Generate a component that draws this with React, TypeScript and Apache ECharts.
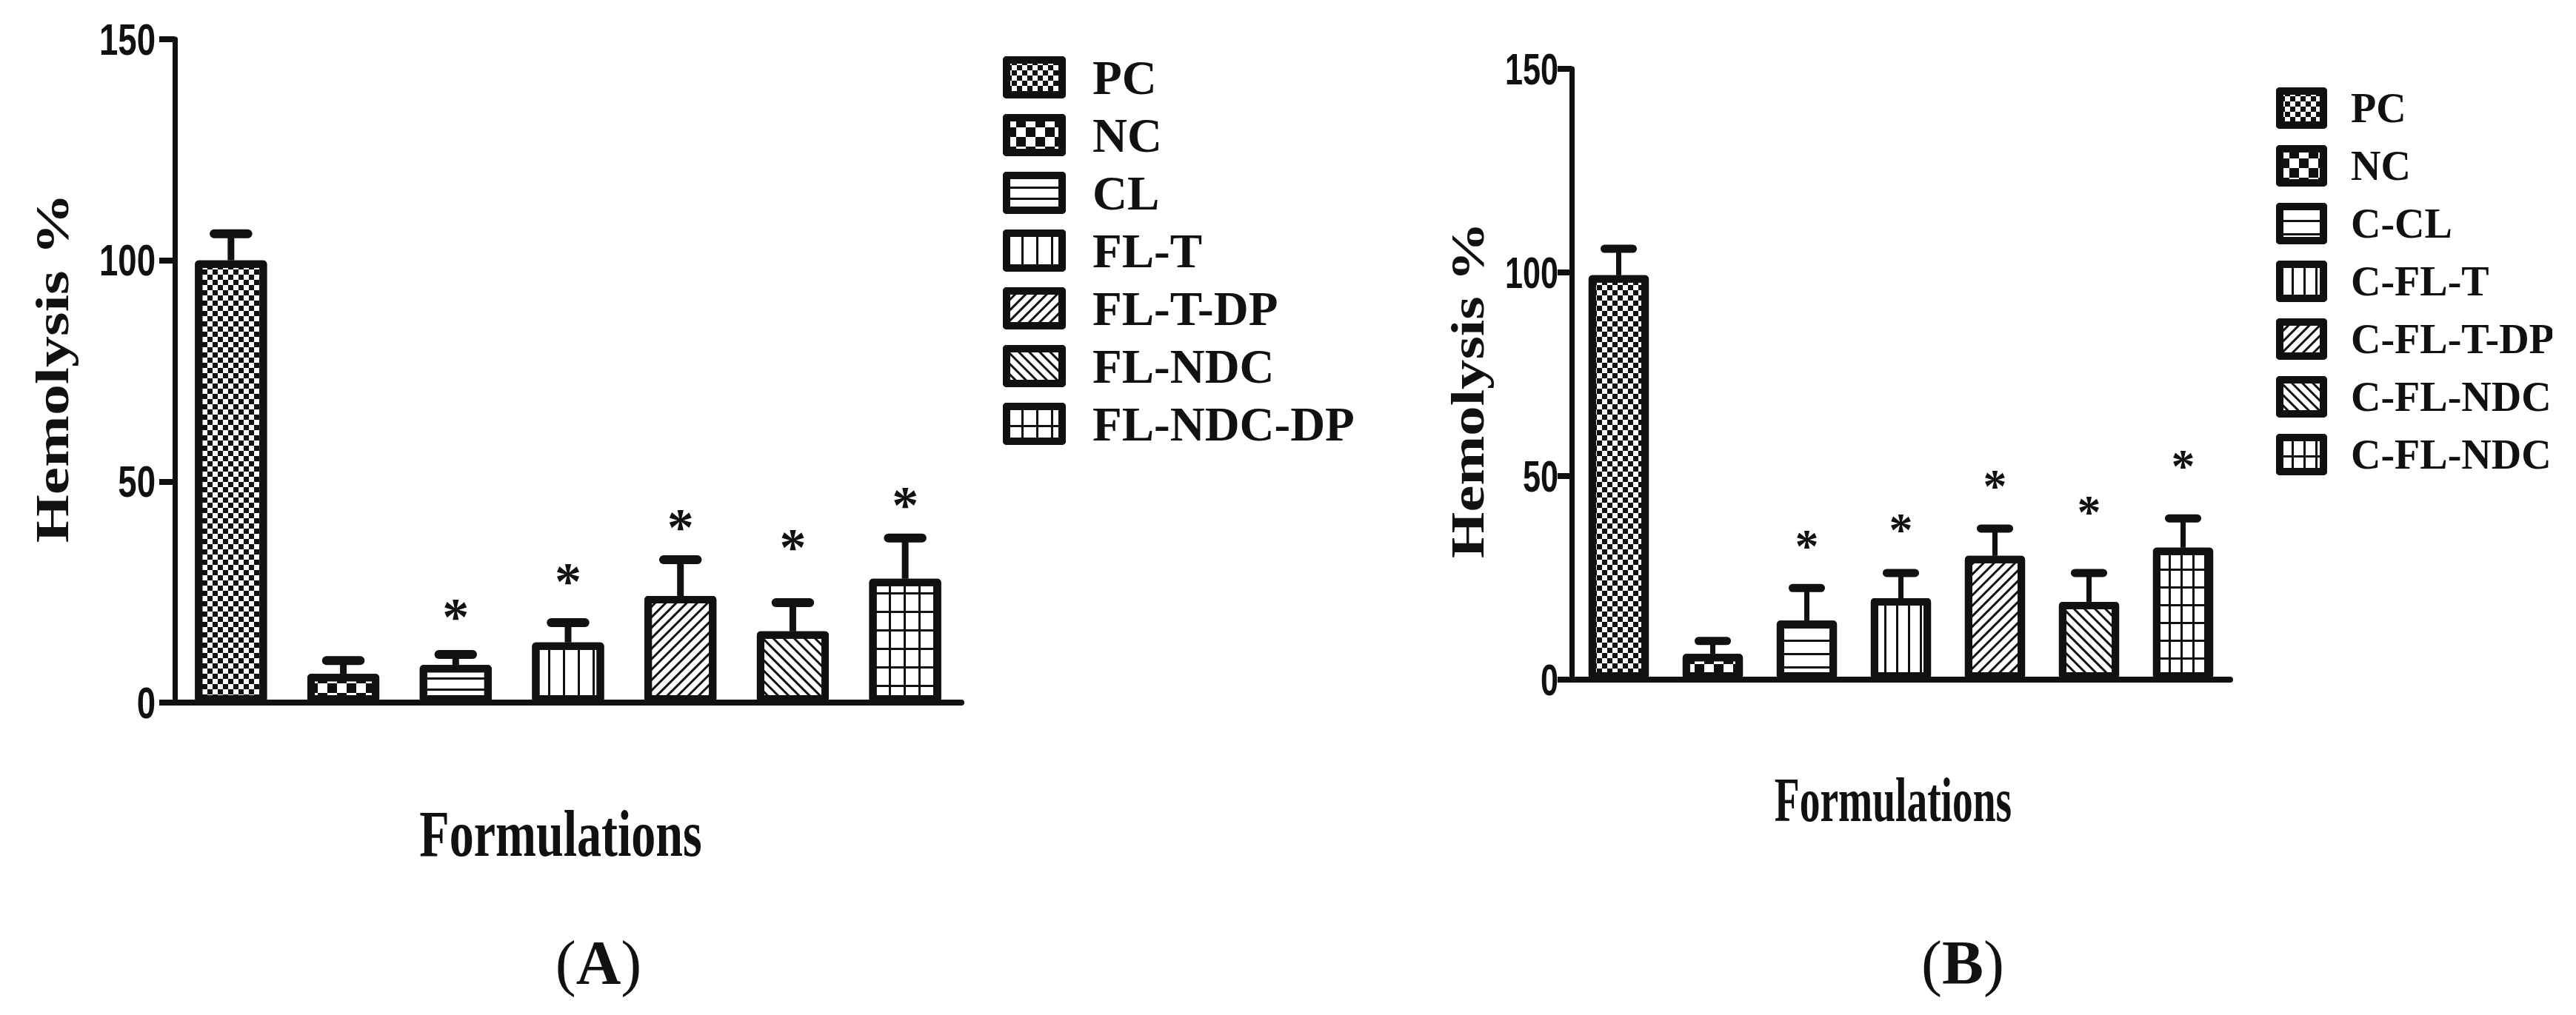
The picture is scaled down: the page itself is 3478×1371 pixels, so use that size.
import React, { useEffect, useRef } from 'react';
import * as echarts from 'echarts';

// ---------- data ----------
const categoriesA = ['PC', 'NC', 'CL', 'FL-T', 'FL-T-DP', 'FL-NDC', 'FL-NDC-DP'];
const meansA = [100, 6.5, 8.5, 13.6, 24.1, 16.1, 28.0];
const errorsA = [6.0, 3.0, 2.4, 4.5, 8.2, 6.5, 9.2];
const starsA: (number | null)[] = [null, null, 21.1, 29.1, 41.4, 36.9, 46.4];

const categoriesB = ['PC', 'NC', 'C-CL', 'C-FL-T', 'C-FL-T-DP', 'C-FL-NDC', 'C-FL-NDC-DP'];
const meansB = [99.3, 6.3, 14.5, 20.0, 30.4, 19.1, 32.4];
const errorsB = [6.5, 3.2, 8.0, 6.2, 6.7, 7.1, 7.2];
const starsB: (number | null)[] = [null, null, 34.5, 38.4, 49.1, 42.9, 54.0];

const yTickValues = [0, 50, 100, 150];
const yMin = 0;
const yMax = 150;
const yInterval = 50;

const yTitle = 'Hemolysis %';
const xTitle = 'Formulations';

// ---------- styles ----------
const INK = '#111';
const decalBase = { symbol: 'rect', symbolSize: 1, color: INK, backgroundColor: '#fff' };
const checkerFine = { ...decalBase, dashArrayX: [[7, 7], [0, 7, 7, 0]], dashArrayY: [7, 0] };
const checkerCoarse = { ...decalBase, dashArrayX: [[13, 13], [0, 13, 13, 0]], dashArrayY: [13, 0] };
const hLines = (gap: number) => ({ ...decalBase, dashArrayX: [[20, 0]], dashArrayY: [3, gap] });
const vLines = (gap: number) => ({ ...decalBase, dashArrayX: [[3, gap]], dashArrayY: [20, 0] });
const diag = (rot: number) => ({ ...decalBase, dashArrayX: [[20, 0]], dashArrayY: [3, 7], rotation: rot });
const grid = (w: number, h: number) => ({ ...decalBase, dashArrayX: [[w + 3, 0], [3, w]], dashArrayY: [3, 0, h, 0] });

const decalsA = [checkerFine, checkerCoarse, hLines(12), vLines(17), diag(-Math.PI / 4), diag(Math.PI / 4), grid(17, 22)];
const decalsB = [checkerFine, checkerCoarse, hLines(15), vLines(13), diag(-Math.PI / 4), diag(Math.PI / 4), grid(13, 21)];

const sans = '"Liberation Sans", Arial, sans-serif';
const serif = '"Liberation Serif", "Times New Roman", serif';

function barSeries(cats: string[], means: number[], decals: any[], idx: number) {
  return cats.map((name, k) => ({
    type: 'bar',
    name,
    xAxisIndex: idx,
    yAxisIndex: idx,
    data: means.map((v, i) => (i === k ? v : '-')),
    barWidth: '64%',
    barGap: '-100%',
    z: 2,
    itemStyle: {
      color: '#fff',
      borderColor: INK,
      borderWidth: 10,
      borderJoin: 'round',
      decal: decals[k],
    },
  }));
}

function errorSeries(means: number[], errors: number[], idx: number, stem: number, cap: number) {
  return {
    type: 'custom',
    xAxisIndex: idx,
    yAxisIndex: idx,
    z: 5,
    silent: true,
    clip: false,
    data: means.map((m, i) => [i, m, errors[i]]),
    encode: { x: 0, y: 1 },
    renderItem: (params: any, api: any) => {
      const i = api.value(0);
      const m = api.value(1);
      const e = api.value(2);
      const p0 = api.coord([i, m]);
      const p1 = api.coord([i, m + e]);
      const band = api.size([1, 0])[0];
      const h = band * 0.15;
      return {
        type: 'group',
        children: [
          { type: 'line', shape: { x1: p0[0], y1: p0[1], x2: p1[0], y2: p1[1] }, style: { stroke: INK, lineWidth: stem } },
          { type: 'line', shape: { x1: p1[0] - h, y1: p1[1], x2: p1[0] + h, y2: p1[1] }, style: { stroke: INK, lineWidth: cap, lineCap: 'round' } },
        ],
      };
    },
  };
}

function starSeries(stars: (number | null)[], idx: number, size: number) {
  const data: number[][] = [];
  stars.forEach((s, i) => { if (s !== null) data.push([i, s]); });
  return {
    type: 'custom',
    xAxisIndex: idx,
    yAxisIndex: idx,
    z: 6,
    silent: true,
    clip: false,
    data,
    encode: { x: 0, y: 1 },
    renderItem: (params: any, api: any) => {
      const p = api.coord([api.value(0), api.value(1)]);
      return {
        type: 'text',
        x: p[0],
        y: p[1] + size * 0.14,
        style: { text: '*', font: `bold ${size}px ${serif}`, fill: INK, align: 'center', verticalAlign: 'middle' },
      };
    },
  };
}

// y tick labels, condensed like the original, positioned by the axis scale
function tickLabelSeries(idx: number, margin: number, scaleX: number) {
  return {
    type: 'custom',
    xAxisIndex: idx,
    yAxisIndex: idx,
    z: 6,
    silent: true,
    clip: false,
    data: yTickValues.map((v) => [0, v]),
    encode: { x: 0, y: 1 },
    renderItem: (params: any, api: any) => {
      const p = api.coord([0, api.value(1)]);
      const band = api.size([1, 0])[0];
      return {
        type: 'text',
        x: p[0] - band / 2 - margin,
        y: p[1],
        scaleX,
        style: { text: String(api.value(1)), font: `bold 60px ${sans}`, fill: INK, align: 'right', verticalAlign: 'middle' },
      };
    },
  };
}

function xAxisDef(cats: string[], idx: number) {
  return {
    type: 'category',
    gridIndex: idx,
    data: cats,
    boundaryGap: true,
    axisLine: { lineStyle: { color: INK, width: 8 } },
    axisTick: { alignWithLabel: true, length: 28, lineStyle: { color: INK, width: 6 } },
    axisLabel: { show: false },
    splitLine: { show: false },
  };
}

function yAxisDef(idx: number, tickLen: number) {
  return {
    type: 'value',
    gridIndex: idx,
    min: yMin,
    max: yMax,
    interval: yInterval,
    axisLine: { show: true, lineStyle: { color: INK, width: 7 } },
    axisTick: { show: true, length: tickLen, lineStyle: { color: INK, width: 8 } },
    axisLabel: { show: false },
    splitLine: { show: false },
  };
}

function legendDef(cats: string[], left: number, top: number, w: number, h: number, gap: number, fs: number, lh: number, pad: number) {
  return {
    data: cats,
    orient: 'vertical',
    left,
    top,
    padding: 0,
    itemWidth: w,
    itemHeight: h,
    itemGap: gap,
    icon: 'rect',
    selectedMode: false,
    itemStyle: { borderWidth: 10, borderColor: INK, borderJoin: 'round' },
    textStyle: { fontFamily: serif, fontWeight: 'bold', fontSize: fs, lineHeight: lh, color: INK, padding: [0, 0, 0, pad] },
  };
}

export default function App() {
  const ref = useRef<HTMLDivElement>(null);
  useEffect(() => {
    document.body.style.margin = '0';
    if (!ref.current) return;
    const chart = echarts.init(ref.current, null, { renderer: 'svg' });
    const option: any = {
      animation: false,
      backgroundColor: '#fff',
      grid: [
        { left: 236, top: 53, width: 1062, height: 896 },
        { left: 2122, top: 93, width: 889, height: 825 },
      ],
      xAxis: [xAxisDef(categoriesA, 0), xAxisDef(categoriesB, 1)],
      yAxis: [yAxisDef(0, 21), yAxisDef(1, 19)],
      legend: [
        legendDef(categoriesA, 1354, 72, 75, 47, 13, 65, 64, 36),
        legendDef(categoriesB, 3073, 116, 59, 46, 18, 56, 60, 32),
      ],
      series: [
        ...barSeries(categoriesA, meansA, decalsA, 0),
        ...barSeries(categoriesB, meansB, decalsB, 1),
        errorSeries(meansA, errorsA, 0, 9, 12),
        errorSeries(meansB, errorsB, 1, 7, 11),
        starSeries(starsA, 0, 72),
        starSeries(starsB, 1, 64),
        tickLabelSeries(0, 26, 0.76),
        tickLabelSeries(1, 18, 0.72),
      ],
      graphic: [
        { type: 'text', x: 71, y: 497, rotation: Math.PI / 2, scaleX: 1.31, style: { text: yTitle, font: `bold 64px ${serif}`, fill: INK, align: 'center', verticalAlign: 'middle' } },
        { type: 'text', x: 1981, y: 527, rotation: Math.PI / 2, scaleX: 1.26, style: { text: yTitle, font: `bold 64px ${serif}`, fill: INK, align: 'center', verticalAlign: 'middle' } },
        { type: 'text', x: 757, y: 1127, scaleX: 0.75, style: { text: xTitle, font: `bold 88px ${serif}`, fill: INK, align: 'center', verticalAlign: 'middle' } },
        { type: 'text', x: 2556, y: 1081, scaleX: 0.66, style: { text: xTitle, font: `bold 84px ${serif}`, fill: INK, align: 'center', verticalAlign: 'middle' } },
        {
          type: 'text', x: 808, y: 1300,
          style: { text: '{p|(}{b|A}{p|)}', align: 'center', verticalAlign: 'middle', rich: { p: { font: `84px ${serif}`, fill: INK }, b: { font: `bold 84px ${serif}`, fill: INK } } },
        },
        {
          type: 'text', x: 2650, y: 1300,
          style: { text: '{p|(}{b|B}{p|)}', align: 'center', verticalAlign: 'middle', rich: { p: { font: `84px ${serif}`, fill: INK }, b: { font: `bold 84px ${serif}`, fill: INK } } },
        },
        { type: 'rect', z: 100, shape: { x: 3446, y: 0, width: 40, height: 1371 }, style: { fill: '#fff' } },
      ],
    };
    chart.setOption(option);
    return () => chart.dispose();
  }, []);
  return <div ref={ref} style={{ width: 3478, height: 1371 }} />;
}
